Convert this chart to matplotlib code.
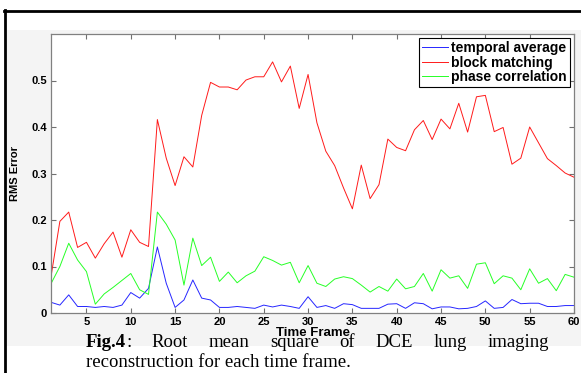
import matplotlib
matplotlib.use("Agg")
import matplotlib.pyplot as plt
from matplotlib.patches import Rectangle
from matplotlib.lines import Line2D
import numpy as np

# ---- data ----
frames = list(range(1, 61))
temporal_average = [0.023, 0.017, 0.039, 0.014, 0.014, 0.012, 0.014, 0.012, 0.017, 0.044,
                    0.032, 0.053, 0.142, 0.064, 0.012, 0.028, 0.071, 0.032, 0.028, 0.012,
                    0.012, 0.014, 0.012, 0.010, 0.017, 0.013, 0.017, 0.014, 0.010, 0.035,
                    0.012, 0.016, 0.010, 0.020, 0.018, 0.010, 0.010, 0.010, 0.019, 0.020,
                    0.010, 0.022, 0.020, 0.009, 0.013, 0.013, 0.009, 0.010, 0.014, 0.026,
                    0.010, 0.012, 0.029, 0.020, 0.021, 0.021, 0.014, 0.014, 0.016, 0.016]
block_matching = [0.078, 0.197, 0.217, 0.141, 0.152, 0.118, 0.149, 0.174, 0.120, 0.179,
                  0.152, 0.143, 0.416, 0.333, 0.274, 0.336, 0.314, 0.425, 0.496, 0.486,
                  0.486, 0.480, 0.501, 0.508, 0.508, 0.540, 0.497, 0.531, 0.440, 0.513,
                  0.409, 0.348, 0.317, 0.269, 0.224, 0.318, 0.246, 0.276, 0.374, 0.356,
                  0.349, 0.394, 0.414, 0.373, 0.417, 0.396, 0.451, 0.389, 0.465, 0.468,
                  0.390, 0.399, 0.320, 0.333, 0.400, 0.366, 0.332, 0.317, 0.301, 0.292]
phase_correlation = [0.063, 0.100, 0.150, 0.114, 0.089, 0.019, 0.041, 0.055, 0.070, 0.085,
                     0.050, 0.040, 0.217, 0.191, 0.157, 0.060, 0.161, 0.102, 0.120, 0.068,
                     0.088, 0.065, 0.080, 0.090, 0.121, 0.113, 0.103, 0.109, 0.065, 0.102,
                     0.064, 0.057, 0.073, 0.078, 0.074, 0.060, 0.045, 0.057, 0.047, 0.073,
                     0.052, 0.057, 0.085, 0.047, 0.093, 0.075, 0.080, 0.053, 0.105, 0.108,
                     0.063, 0.080, 0.075, 0.050, 0.095, 0.064, 0.074, 0.048, 0.083, 0.077]
series_labels = ["temporal average", "block matching", "phase correlation"]
x_ticks = [5, 10, 15, 20, 25, 30, 35, 40, 45, 50, 55, 60]
y_ticks = [0, 0.1, 0.2, 0.3, 0.4, 0.5]
y_tick_labels = ["0", "0.1", "0.2", "0.3", "0.4", "0.5"]
x_label = "Time Frame"
y_label = "RMS Error"
caption_line1 = ["Root", "mean", "square", "of", "DCE", "lung", "imaging"]
caption_line2 = "reconstruction for each time frame."

W, H = 581, 373
fig = plt.figure(figsize=(W / 100, H / 100), dpi=100)
fig.patch.set_facecolor("white")

# grey figure background region and black page borders
fig.patches.append(Rectangle((6 / W, (H - 346) / H), (W - 6) / W, (346 - 30) / H,
                             transform=fig.transFigure, facecolor="#f4f4f4",
                             edgecolor="none", zorder=-10))
fig.lines.append(Line2D([4.5 / W, 4.5 / W], [0, (H - 10) / H], transform=fig.transFigure,
                        color="black", lw=2.0, zorder=-5))
fig.lines.append(Line2D([3.5 / W, 1.0], [(H - 11) / H, (H - 11) / H], transform=fig.transFigure,
                        color="black", lw=2.0, zorder=-5))

ax = fig.add_axes([51 / W, (H - 313) / H, (574 - 51) / W, (313 - 34) / H])
ax.set_zorder(1)
ax.set_facecolor("white")

tick_font = dict(family="Liberation Sans", weight="bold", size=8)
ax.plot(frames, temporal_average, color=(0.15, 0.15, 1), lw=0.7, label=series_labels[0])
ax.plot(frames, block_matching, color=(1, 0.1, 0.1), lw=0.7, label=series_labels[1])
ax.plot(frames, phase_correlation, color=(0.15, 1, 0.15), lw=0.7, label=series_labels[2])

ax.set_xlim(1, 60)
ax.set_ylim(0, 0.6)
ax.set_xticks(x_ticks)
ax.set_xticklabels([str(t) for t in x_ticks], fontdict=tick_font)
ax.set_yticks(y_ticks)
ax.set_yticklabels(y_tick_labels, fontdict=tick_font)
ax.tick_params(direction="in", length=3.5, width=0.8, color="#707070",
               top=True, right=True, pad=3)
for s in ax.spines.values():
    s.set_color("#808080")
    s.set_linewidth(0.9)

ax.set_ylabel(y_label, fontdict=dict(family="Liberation Sans", weight="bold", size=8))
ax.yaxis.set_label_coords((20 - 51) / 523, 0.5)
ax.set_xlabel(x_label, fontdict=dict(family="Liberation Sans", weight="bold", size=9.5))
ax.xaxis.set_label_coords(0.5, (313 - 327) / 279)

leg = ax.legend(loc="upper right", prop=dict(family="Liberation Sans", weight="bold", size=10),
                frameon=True, fancybox=False, edgecolor="black", framealpha=1,
                borderaxespad=0.3, handlelength=1.85, handletextpad=0.25,
                labelspacing=0.05, borderpad=0.2)
leg.get_frame().set_linewidth(0.8)

# caption (justified first line), drawn over the chart like in the source
serif = "Liberation Serif"
fs = 13.5
base1 = (H - 347) / H
base2 = (H - 367) / H
left_px, right_px = 86, 549
fig.canvas.draw()
r = fig.canvas.get_renderer()
t_fig = fig.text(left_px / W, base1, "Fig.4", family=serif, weight="bold", size=fs,
                 va="baseline", ha="left", zorder=10)
w_fig = t_fig.get_window_extent(r).width
t_col = fig.text((left_px + w_fig) / W, base1, ":", family=serif, size=fs,
                 va="baseline", ha="left", zorder=10)
w_col = t_col.get_window_extent(r).width
word_texts = [fig.text(0, base1, w, family=serif, size=fs, va="baseline", ha="left", zorder=10)
              for w in caption_line1]
widths = [t.get_window_extent(r).width for t in word_texts]
total = w_fig + w_col + sum(widths)
gap = (right_px - left_px - total) / len(caption_line1)
x = left_px + w_fig + w_col + gap
for t, w in zip(word_texts, widths):
    t.set_x(x / W)
    x += w + gap
fig.text(left_px / W, base2, caption_line2, family=serif, size=fs, va="baseline",
         ha="left", zorder=10)

fig.savefig("out.png", dpi=100, facecolor=fig.get_facecolor())
